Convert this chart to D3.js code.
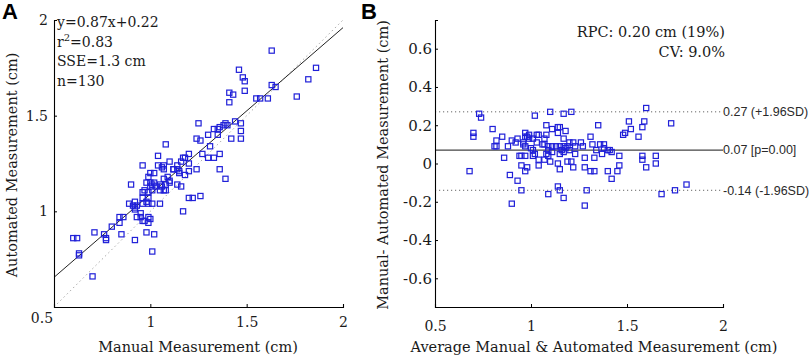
<!DOCTYPE html>
<html><head><meta charset="utf-8">
<script src="https://cdn.jsdelivr.net/npm/d3@7"></script>
<style>body{margin:0;background:#fff}svg{display:block}</style>
</head><body><svg id="c" width="809" height="358"></svg>
<script>
// Panel A: Manual (x) vs Automated (y)
const manualA = [1.63,1.86,1.46,1.48,1.49,1.82,1.63,1.65,1.41,1.43,1.49,1.41,1.76,1.55,1.57,1.61,1.25,1.44,1.39,1.47,1.47,1.33,1.35,1.36,1.35,1.30,1.24,1.26,1.42,1.47,1.08,1.31,1.04,1.27,1.30,1.33,1.36,1.20,1.17,1.16,1.18,1.20,1.10,1.06,1.07,0.96,1.02,0.99,1.14,1.14,1.15,1.12,1.20,1.24,1.36,1.09,1.39,0.90,1.00,1.00,1.01,1.05,1.06,1.08,1.10,1.16,1.14,1.15,1.18,1.05,1.08,0.96,0.97,0.99,0.96,0.99,1.01,1.26,1.20,1.22,0.89,0.92,0.96,0.99,1.01,1.05,0.92,0.91,0.93,0.92,1.17,0.95,0.84,0.86,0.84,0.93,0.95,0.96,0.99,0.99,1.00,0.80,0.71,0.76,0.77,0.77,0.85,0.60,0.62,0.98,1.02,0.92,0.63,0.63,1.01,0.70,1.03,1.07,1.10,0.98,0.97,1.07,1.12,1.04,0.98,1.02,1.38,1.40,1.07,1.00];
const autoA = [1.84,1.75,1.74,1.70,1.68,1.69,1.66,1.65,1.62,1.61,1.63,1.57,1.60,1.59,1.59,1.59,1.46,1.47,1.46,1.46,1.42,1.43,1.43,1.44,1.40,1.40,1.38,1.37,1.38,1.38,1.35,1.34,1.29,1.30,1.28,1.28,1.30,1.30,1.28,1.26,1.28,1.25,1.26,1.23,1.22,1.24,1.20,1.18,1.24,1.22,1.21,1.22,1.21,1.22,1.22,1.18,1.17,1.14,1.20,1.15,1.14,1.14,1.13,1.14,1.15,1.13,1.14,1.20,1.19,1.11,1.11,1.10,1.11,1.10,1.07,1.07,1.11,1.08,1.07,1.07,1.04,1.05,1.04,1.04,1.04,1.04,1.02,1.03,1.03,1.01,1.00,0.99,0.97,0.97,0.94,0.97,0.97,0.95,0.94,0.97,0.96,0.92,0.89,0.88,0.86,0.85,0.88,0.86,0.86,0.89,0.88,0.85,0.78,0.77,0.79,0.66,1.13,1.17,1.16,1.05,0.95,1.11,1.22,1.24,1.15,1.15,1.45,1.45,1.24,1.13];
const fitSlope = 0.87, fitIntercept = 0.22;
const statsA = ["y=0.87x+0.22", "r2=0.83", "SSE=1.3 cm", "n=130"];
const ticksA = [1, 1.5, 2];
const cornerTickA = 0.5;

// Panel B: Bland-Altman
const avgB = [0.73,0.74,0.70,0.70,0.80,1.02,1.10,1.17,1.21,1.08,1.15,1.11,1.14,1.14,1.18,1.08,1.04,1.03,0.99,0.97,0.97,0.98,0.85,0.82,0.81,0.82,0.90,0.88,0.92,0.96,0.96,0.97,0.99,1.01,1.03,1.06,1.07,1.09,1.11,1.00,1.01,1.13,1.15,1.17,1.19,1.20,1.22,1.23,1.26,1.31,1.32,1.35,1.36,1.38,1.40,1.41,1.42,1.37,1.49,1.51,1.52,1.56,1.58,1.59,1.60,1.73,0.86,0.94,0.95,0.97,1.01,1.02,1.08,1.09,1.11,1.15,1.16,1.17,1.18,1.20,1.23,1.27,1.28,1.33,1.38,1.46,1.58,1.58,1.65,1.65,1.60,0.68,0.89,1.04,0.95,0.98,0.97,1.14,1.15,1.19,1.21,1.22,1.28,1.31,1.33,1.40,1.45,1.46,1.42,1.09,1.10,0.93,0.95,0.90,1.14,1.15,1.09,1.17,1.29,1.28,1.68,1.75,1.81,1.48,1.04,1.07,0.93,1.17,1.34,1.07];
const diffB = [0.26,0.24,0.16,0.14,0.18,0.25,0.27,0.26,0.27,0.20,0.19,0.18,0.19,0.16,0.17,0.15,0.15,0.15,0.15,0.16,0.14,0.14,0.14,0.12,0.09,0.09,0.12,0.09,0.11,0.11,0.10,0.09,0.13,0.13,0.11,0.10,0.10,0.09,0.09,0.08,0.07,0.09,0.09,0.09,0.09,0.11,0.11,0.09,0.11,0.14,0.10,0.20,0.10,0.10,0.07,0.07,0.06,0.05,0.16,0.22,0.18,0.14,0.19,0.22,0.29,0.21,0.03,0.04,0.04,0.04,0.04,0.05,0.05,0.07,0.06,0.05,0.07,0.06,0.08,0.07,0.05,0.09,0.03,0.03,0.08,0.04,0.04,0.02,0.04,0.00,-0.02,-0.04,-0.06,-0.01,-0.01,-0.02,-0.04,0.00,-0.03,0.01,0.01,-0.02,-0.02,-0.04,-0.04,-0.04,-0.04,-0.01,-0.08,0.04,0.01,-0.09,-0.14,-0.21,-0.12,-0.14,-0.16,-0.18,-0.14,-0.22,-0.16,-0.14,-0.11,0.15,0.02,0.13,0.13,0.13,0.07,0.02];
const meanDiff = 0.07, upperLoA = 0.27, lowerLoA = -0.14;
const refLabels = ["0.27 (+1.96SD)", "0.07 [p=0.00]", "-0.14 (-1.96SD)"];
const statsB = ["RPC: 0.20 cm (19%)", "CV: 9.0%"];
const xTicksB = [0.5, 1, 1.5, 2];
const yTicksB = [-0.6, -0.4, -0.2, 0, 0.2, 0.4, 0.6];

const svg = d3.select("#c");
const serif = "'DejaVu Serif', serif";
const sans = "'Liberation Sans', Arial, sans-serif";
const blue = "#2020d8";
const ink = "#1a1a1a";
const fmt = d => (d === 0 ? "0" : String(d));

function squares(g, xs, ys, x, y) {
  g.selectAll("rect.pt").data(xs.map((v, i) => [v, ys[i]])).join("rect")
    .attr("class", "pt")
    .attr("x", d => x(d[0]) - 2.6).attr("y", d => y(d[1]) - 2.6)
    .attr("width", 5.2).attr("height", 5.2)
    .attr("fill", "none").attr("stroke", blue).attr("stroke-width", 1.2);
}

function axisStyle(g) {
  g.select(".domain").attr("stroke", "#000").attr("stroke-width", 1.1);
  g.selectAll(".tick line").attr("stroke", "#000");
  g.selectAll(".tick text").attr("font-family", serif).attr("font-size", 14).attr("fill", ink);
}

// ---------- Panel A ----------
const xA = d3.scaleLinear().domain([0.5, 2]).range([54, 343]);
const yA = d3.scaleLinear().domain([0.5, 2]).range([307, 20]);
const gA = svg.append("g");

gA.append("line").attr("x1", xA(0.5)).attr("y1", yA(0.5)).attr("x2", xA(2)).attr("y2", yA(2))
  .attr("stroke", "#aaa").attr("stroke-width", 1).attr("stroke-dasharray", "1.5,3");
const fitY = v => fitSlope * v + fitIntercept;
gA.append("line").attr("x1", xA(0.5)).attr("y1", yA(fitY(0.5))).attr("x2", xA(2)).attr("y2", yA(fitY(2)))
  .attr("stroke", "#222").attr("stroke-width", 1);

squares(gA, manualA, autoA, xA, yA);

const axAx = gA.append("g").attr("transform", `translate(0,${yA(0.5)})`)
  .call(d3.axisBottom(xA).tickValues(ticksA).tickSize(-3).tickPadding(10).tickFormat(fmt));
axisStyle(axAx);
const axAy = gA.append("g").attr("transform", `translate(${xA(0.5)},0)`)
  .call(d3.axisLeft(yA).tickValues(ticksA).tickSize(-3).tickPadding(6).tickFormat(fmt));
axisStyle(axAy);
gA.append("text").attr("x", xA(cornerTickA) - 12).attr("y", yA(cornerTickA) + 16)
  .attr("text-anchor", "middle").attr("font-family", serif).attr("font-size", 14).attr("fill", ink)
  .text(fmt(cornerTickA));

const stA = gA.append("g").attr("font-family", serif).attr("font-size", 14).attr("fill", ink);
statsA.forEach((s, i) => {
  const t = stA.append("text").attr("x", 57).attr("y", 27 + i * 19.5);
  if (s.startsWith("r2")) {
    t.append("tspan").text("r");
    t.append("tspan").attr("dy", -6).attr("font-size", 10).text("2");
    t.append("tspan").attr("dy", 6).text(s.slice(2));
  } else t.text(s);
});

gA.append("text").attr("x", 198).attr("y", 352).attr("text-anchor", "middle")
  .attr("font-family", serif).attr("font-size", 14.5).attr("fill", ink).text("Manual Measurement (cm)");
gA.append("text").attr("transform", "translate(17,165) rotate(-90)").attr("text-anchor", "middle")
  .attr("font-family", serif).attr("font-size", 14.5).attr("fill", ink).text("Automated Measurement (cm)");
svg.append("text").attr("x", 2).attr("y", 19).attr("font-family", sans).attr("font-weight", "bold")
  .attr("font-size", 22).text("A");

// ---------- Panel B ----------
const xB = d3.scaleLinear().domain([0.5, 2]).range([435, 723]);
const yB = d3.scaleLinear().domain([-0.75, 0.75]).range([307, 20]);
const gB = svg.append("g");

[[upperLoA, true], [meanDiff, false], [lowerLoA, true]].forEach(([v, dotted]) => {
  const l = gB.append("line").attr("x1", xB(0.5)).attr("x2", xB(2)).attr("y1", yB(v)).attr("y2", yB(v))
    .attr("stroke", dotted ? "#666" : "#444").attr("stroke-width", dotted ? 1 : 1.2);
  if (dotted) l.attr("stroke-dasharray", "1.2,2.8");
});
[upperLoA, meanDiff, lowerLoA].forEach((v, i) => {
  gB.append("text").attr("x", xB(2)).attr("y", yB(v)).attr("dy", "0.35em")
    .attr("font-family", sans).attr("font-size", 12.5).attr("fill", "#2a2a2a").text(refLabels[i]);
});

squares(gB, avgB, diffB, xB, yB);

const axBx = gB.append("g").attr("transform", `translate(0,${yB(-0.75)})`)
  .call(d3.axisBottom(xB).tickValues(xTicksB).tickSize(-3).tickPadding(14).tickFormat(fmt));
axisStyle(axBx);
const axBy = gB.append("g").attr("transform", `translate(${xB(0.5)},0)`)
  .call(d3.axisLeft(yB).tickValues(yTicksB).tickSize(-3).tickPadding(3).tickFormat(fmt));
axisStyle(axBy);
axBy.selectAll(".tick text").attr("font-size", 15);

const stB = gB.append("g").attr("font-family", serif).attr("font-size", 14.5).attr("fill", ink).attr("text-anchor", "end");
statsB.forEach((s, i) => stB.append("text").attr("x", 725).attr("y", 37 + i * 20).text(s));

gB.append("text").attr("x", 594).attr("y", 352).attr("text-anchor", "middle")
  .attr("font-family", serif).attr("font-size", 14.5).attr("fill", ink).text("Average Manual & Automated Measurement (cm)");
gB.append("text").attr("transform", "translate(388,165) rotate(-90)").attr("text-anchor", "middle")
  .attr("font-family", serif).attr("font-size", 14.5).attr("fill", ink).text("Manual- Automated Measurement (cm)");
svg.append("text").attr("x", 361).attr("y", 19).attr("font-family", sans).attr("font-weight", "bold")
  .attr("font-size", 22).text("B");
</script></body></html>
